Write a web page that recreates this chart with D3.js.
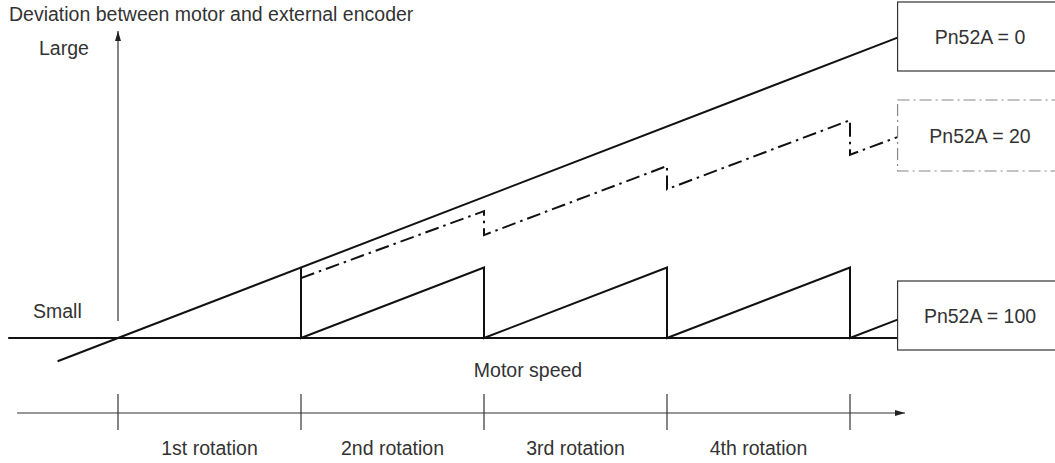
<!DOCTYPE html>
<html>
<head>
<meta charset="utf-8">
<script src="https://cdn.jsdelivr.net/npm/d3@7"></script>
<style>
  html, body { margin: 0; padding: 0; background: #fff; }
  svg { display: block; }
  text { font-family: "Liberation Sans", Arial, sans-serif; font-size: 19.5px; fill: #333; }
</style>
</head>
<body>
<svg id="chart" width="1055" height="463"></svg>
<script>
// ---- data ----
const rotationTicks = [0, 1, 2, 3, 4];
const rotationLabels = ["1st rotation", "2nd rotation", "3rd rotation", "4th rotation"];
const seriesNames = ["Pn52A = 0", "Pn52A = 20", "Pn52A = 100"];
// Pn52A = 0 : deviation keeps growing with speed
const pn0 = [[-0.33, -0.33], [4.26, 4.26]];
// Pn52A = 20 : partly corrected each rotation
const pn20 = [[1, 0.85], [2, 1.80], [2, 1.46], [3, 2.44], [3, 2.11], [4, 3.09], [4, 2.60], [4.26, 2.85]];
// Pn52A = 100 : fully corrected each rotation
const pn100 = [[1, 1], [1, 0], [2, 1], [2, 0], [3, 1], [3, 0], [4, 1], [4, 0], [4.26, 0.26]];
const baseline = [[-0.6, 0], [4.26, 0]];
const yLabels = ["Large", "Small"];
const yTitle = "Deviation between motor and external encoder";
const xTitle = "Motor speed";

// ---- scales ----
const svg = d3.select("#chart");
const x = d3.scaleLinear().domain([0, 4]).range([118, 850]);
const y = d3.scaleLinear().domain([0, 1]).range([338, 267.5]);
const line = d3.line().x(d => x(d[0])).y(d => y(d[1]));

// arrow markers
const defs = svg.append("defs");
defs.append("marker").attr("id", "arrow").attr("viewBox", "0 0 10 6")
  .attr("refX", 10).attr("refY", 3).attr("markerWidth", 10).attr("markerHeight", 6)
  .attr("markerUnits", "userSpaceOnUse").attr("orient", "auto")
  .append("path").attr("d", "M0,0 L10,3 L0,6 Z").attr("fill", "#222");

// ---- vertical axis ----
svg.append("line")
  .attr("x1", x(0)).attr("x2", x(0))
  .attr("y1", y(0) - 17).attr("y2", 31)
  .attr("stroke", "#333").attr("stroke-width", 1.2)
  .attr("marker-end", "url(#arrow)");

svg.append("text").attr("x", 9).attr("y", 21).text(yTitle);
svg.append("text").attr("x", 39).attr("y", 55).text(yLabels[0]);
svg.append("text").attr("x", 33).attr("y", 318).text(yLabels[1]);

// ---- baseline ----
svg.append("path").datum(baseline).attr("d", line)
  .attr("fill", "none").attr("stroke", "#111").attr("stroke-width", 2);

// ---- series ----
svg.append("path").datum(pn0).attr("d", line)
  .attr("fill", "none").attr("stroke", "#111").attr("stroke-width", 2);
svg.append("path").datum(pn100).attr("d", line)
  .attr("fill", "none").attr("stroke", "#111").attr("stroke-width", 2)
  .attr("stroke-linejoin", "miter");
svg.append("path").datum(pn20).attr("d", line)
  .attr("fill", "none").attr("stroke", "#111").attr("stroke-width", 2)
  .attr("stroke-dasharray", "14,5,2.5,5");

// ---- legend boxes ----
const boxX = x(4.26);
const boxes = [
  { name: seriesNames[0], y0: 2, y1: 71, dash: null, stroke: "#333" },
  { name: seriesNames[1], y0: 100, y1: 171, dash: "12,4,2,4", stroke: "#888" },
  { name: seriesNames[2], y0: 281, y1: 350, dash: null, stroke: "#333" }
];
const bg = svg.selectAll("g.box").data(boxes).join("g").attr("class", "box");
bg.append("rect")
  .attr("x", boxX).attr("y", d => d.y0)
  .attr("width", 300).attr("height", d => d.y1 - d.y0)
  .attr("fill", "#fff").attr("stroke", d => d.stroke).attr("stroke-width", 1.2)
  .attr("stroke-dasharray", d => d.dash);
bg.append("text")
  .attr("x", 980).attr("y", d => (d.y0 + d.y1) / 2 + 7)
  .attr("text-anchor", "middle").text(d => d.name);

// ---- motor speed axis ----
svg.append("text").attr("x", 528).attr("y", 377).attr("text-anchor", "middle").text(xTitle);
const axY = 413;
svg.append("line")
  .attr("x1", 17).attr("x2", 905).attr("y1", axY).attr("y2", axY)
  .attr("stroke", "#333").attr("stroke-width", 1.2)
  .attr("marker-end", "url(#arrow)");
svg.selectAll("line.tick").data(rotationTicks).join("line").attr("class", "tick")
  .attr("x1", d => x(d)).attr("x2", d => x(d))
  .attr("y1", 394).attr("y2", 430)
  .attr("stroke", "#333").attr("stroke-width", 1.2);
svg.selectAll("text.rot").data(rotationLabels).join("text").attr("class", "rot")
  .attr("x", (d, i) => (x(i) + x(i + 1)) / 2).attr("y", 455)
  .attr("text-anchor", "middle").text(d => d);
</script>
</body>
</html>
